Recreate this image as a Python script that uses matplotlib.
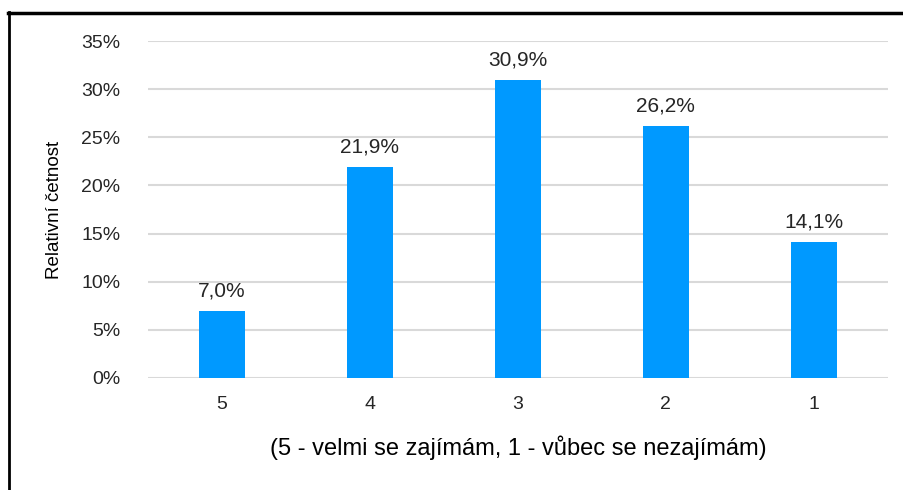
import matplotlib.pyplot as plt
from matplotlib.lines import Line2D

categories = ["5", "4", "3", "2", "1"]
values = [7.0, 21.9, 30.9, 26.2, 14.1]
yticks = [0, 5, 10, 15, 20, 25, 30, 35]

plt.rcParams["font.family"] = ["Liberation Sans", "DejaVu Sans"]

fig = plt.figure(figsize=(9.04, 4.9), dpi=100)
ax = fig.add_axes([0.1637, 0.2286, 0.8183, 0.6877])

x = list(range(len(categories)))
ax.bar(x, values, width=0.31, color="#0099FF", zorder=3)
for xi, v in zip(x, values):
    ax.text(xi, v + 1.1, f"{v:.1f}%".replace(".", ","), ha="center", va="bottom",
            fontsize=15, color="#262626")

ax.set_xlim(-0.5, len(categories) - 0.5)
ax.set_ylim(0, 35)
ax.set_yticks(yticks)
ax.set_yticklabels([f"{t}%" for t in yticks])
ax.set_xticks(x)
ax.set_xticklabels(categories)
ax.tick_params(axis="both", length=0, labelsize=14, colors="#262626")
ax.tick_params(axis="y", pad=20)
ax.tick_params(axis="x", pad=13)
ax.grid(axis="y", color="#D9D9D9", linewidth=1.5, zorder=0)
for s in ax.spines.values():
    s.set_visible(False)

ax.set_ylabel("Relativní četnost", fontsize=13.5, color="black", labelpad=13)
ax.set_xlabel("(5 - velmi se zajímám, 1 - vůbec se nezajímám)", fontsize=17,
              color="black", labelpad=16)

# frame (only top and left edges are visible in the crop)
fig.lines.append(Line2D([8 / 904, 1], [1 - 13 / 490] * 2, transform=fig.transFigure,
                        color="black", linewidth=2.5))
fig.lines.append(Line2D([9 / 904] * 2, [0, 1 - 12 / 490], transform=fig.transFigure,
                        color="black", linewidth=2))

fig.savefig("out.png", dpi=100)
